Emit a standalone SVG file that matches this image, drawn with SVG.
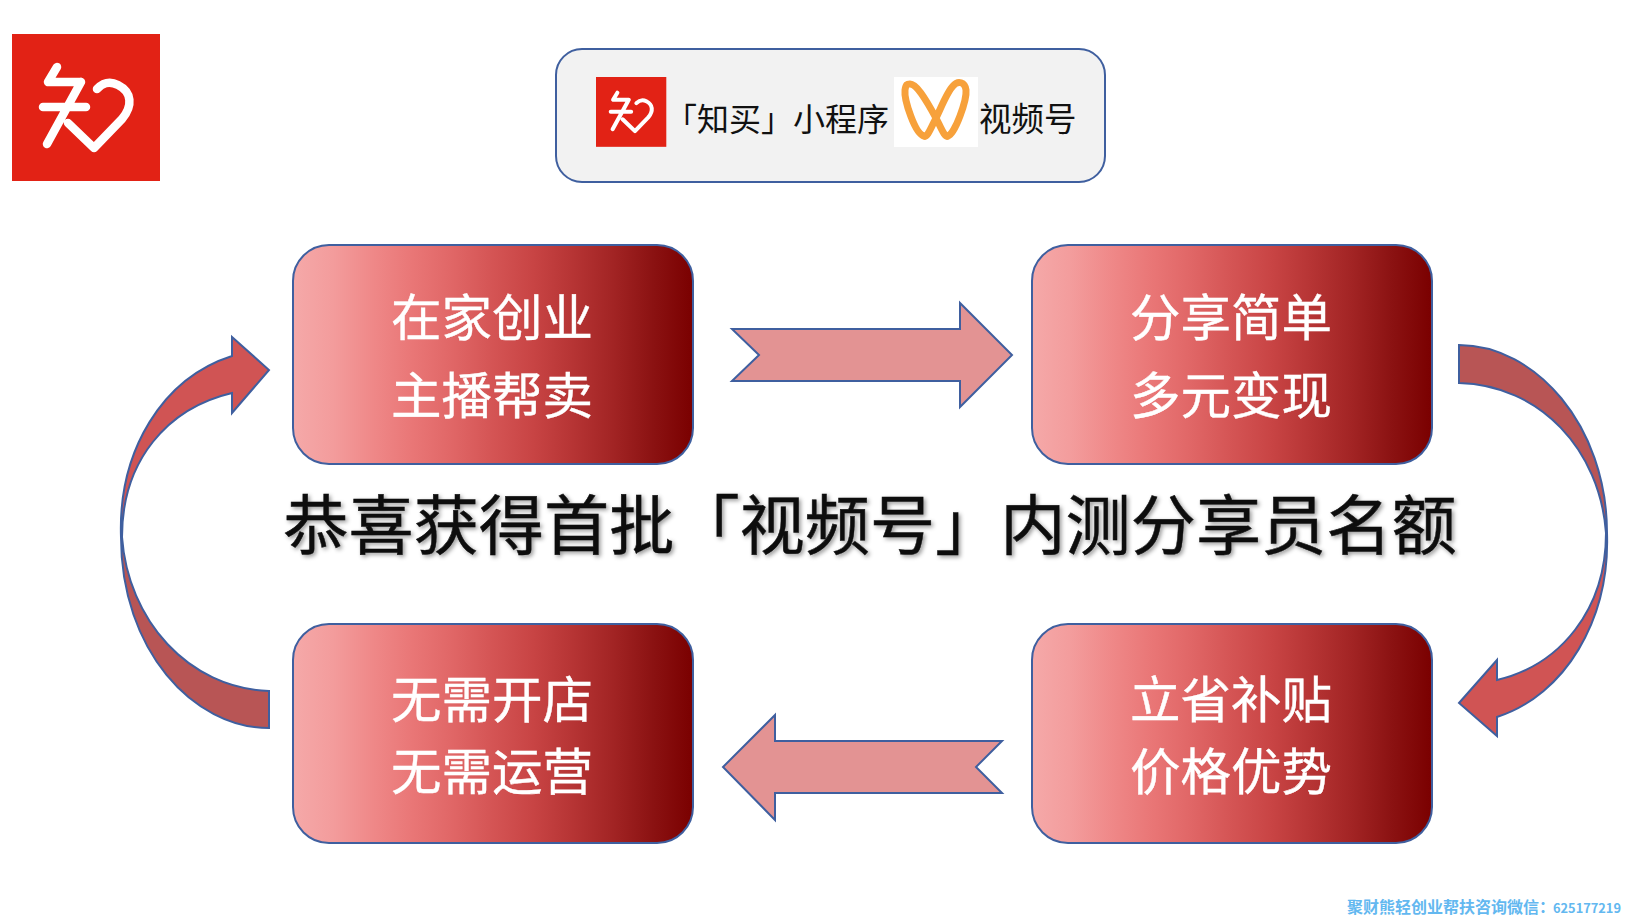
<svg xmlns="http://www.w3.org/2000/svg" width="1626" height="916" viewBox="0 0 1626 916">
<style>
text{font-family:"Noto Sans CJK SC","Liberation Sans",sans-serif}
.node{fill:url(#g);stroke:#3f5f9f;stroke-width:2}
.nt{font-size:50.5px;fill:#fff;text-anchor:middle;stroke:#fff;stroke-width:.4}
.ar{stroke:#3f5f9f;stroke-width:2;stroke-linejoin:miter}
.lg{fill:none;stroke:#fff;stroke-width:8.5;stroke-linecap:round;stroke-linejoin:round}
</style>
<defs>
<linearGradient id="g" x1="0" y1="0" x2="1" y2="0">
<stop offset="0" stop-color="#f5a9a9"/>
<stop offset=".1" stop-color="#f39c9c"/>
<stop offset=".2" stop-color="#ef8888"/>
<stop offset=".3" stop-color="#e97676"/>
<stop offset=".4" stop-color="#e06666"/>
<stop offset=".5" stop-color="#d45454"/>
<stop offset=".6" stop-color="#c84444"/>
<stop offset=".7" stop-color="#b63434"/>
<stop offset=".8" stop-color="#a22424"/>
<stop offset=".9" stop-color="#8b1212"/>
<stop offset="1" stop-color="#7a0000"/>
</linearGradient>
<linearGradient id="a1" x1="0" y1="0" x2="0" y2="1">
<stop offset="0" stop-color="#b85555"/><stop offset=".48" stop-color="#b85555"/>
<stop offset=".52" stop-color="#d05454"/><stop offset="1" stop-color="#d05454"/>
</linearGradient>
<linearGradient id="a2" x1="0" y1="1" x2="0" y2="0">
<stop offset="0" stop-color="#b85555"/><stop offset=".48" stop-color="#b85555"/>
<stop offset=".52" stop-color="#d05454"/><stop offset="1" stop-color="#d05454"/>
</linearGradient>
<filter id="sh" x="-5%" y="-20%" width="110%" height="140%"><feDropShadow dx="2" dy="2" stdDeviation="2" flood-color="#000" flood-opacity=".4"/></filter>
<g id="logo">
<rect x="12" y="34" width="148" height="147" fill="#e22215"/>
<path class="lg" d="M57 67L48 82H81M81 82L47 144M43 107H86M68 123L94 148L122 119C133 106 132 92 118 85C108 80 102 84 97 89"/>
</g>
</defs>
<g id="logo-large"><use href="#logo"/></g>
<g id="top-box">
<rect x="556" y="49" width="549" height="133" rx="26" fill="#f2f2f2" stroke="#3f5f9f" stroke-width="2"/>
<use href="#logo" transform="translate(596 77) scale(.475) translate(-12 -34)"/>
<rect x="894" y="77" width="84" height="70" fill="#fff"/>
<path d="M910 84C916 84 924 96 936 118C942 130 945 138 948 136C955 134 967 100 966 90C965 82 958 80 953 86C947 92 941 108 936 118C930 130 927 138 924 136C915 134 904 100 905 90C906 84 907 84 910 84Z" fill="none" stroke="#f7a13b" stroke-width="7"/>
<text x="665" y="131" font-size="32" fill="#111">「知买」小程序</text>
<text x="979" y="131" font-size="32.5" fill="#111">视频号</text>
</g>
<g id="node-1"><rect class="node" x="293" y="245" width="400" height="219" rx="36"/><text class="nt" x="492" y="336">在家创业</text><text class="nt" x="492" y="414">主播帮卖</text></g>
<g id="node-2"><rect class="node" x="1032" y="245" width="400" height="219" rx="36"/><text class="nt" x="1231" y="336">分享简单</text><text class="nt" x="1231" y="414">多元变现</text></g>
<g id="node-3"><rect class="node" x="1032" y="624" width="400" height="219" rx="36"/><text class="nt" x="1231" y="718">立省补贴</text><text class="nt" x="1231" y="790">价格优势</text></g>
<g id="node-4"><rect class="node" x="293" y="624" width="400" height="219" rx="36"/><text class="nt" x="492" y="718">无需开店</text><text class="nt" x="492" y="790">无需运营</text></g>
<g id="connectors">
<path class="ar" fill="#e39393" d="M732 329H960V303L1012 355L960 407V381H732L759 355Z"/>
<path class="ar" fill="#e39393" d="M1002 741H775V715L723 767L775 820V793H1002L976 767Z"/>
<path class="ar" fill="url(#a1)" d="M1459 345C1535 345 1607 425 1607 533C1610 620 1565 695 1497 717V736L1459 703L1497 660V680C1560 665 1606 610 1606 533C1600 450 1540 385 1459 383Z"/>
<path class="ar" fill="url(#a2)" d="M269 728C193 728 121 650 121 537C118 450 163 378 232 356V337L269 370L232 413V393C168 408 122 460 122 537C128 620 188 688 269 691Z"/>
</g>
<text id="title" x="870" y="549" font-size="65.2" fill="#111" stroke="#111" stroke-width=".5" text-anchor="middle" filter="url(#sh)">恭喜获得首批「视频号」内测分享员名额</text>
<text id="watermark" y="913" font-weight="700" fill="#63b8f0" font-size="16" x="1347">聚财熊轻创业帮扶咨询微信：<tspan x="1553" font-size="12.8">625177219</tspan></text>
</svg>
